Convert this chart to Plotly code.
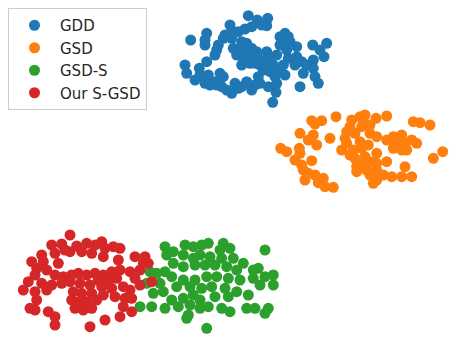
import plotly.graph_objects as go

# Point positions (x right, y down, pixel units)
gdd_x = [248.3,257.3,267.7,266.7,261.7,251.7,245,238.3,230,231.7,225,223.3,231.7,206.7,205,205,190.7,218.3,216.7,215,
         241.7,246.7,240,245,251.7,256.7,250,243.3,241.7,250,258.3,260,266.7,268.3,265,276.7,280,285,288.3,283.3,
         290,280,296.7,286.7,288.3,296.7,295,301.7,306.7,313.3,313.3,312.7,320,326.7,324,303.3,315,318.3,300,285,
         278.3,273.3,270,275,276.7,276,272.7,268.3,260,255,251.7,258.3,241.7,238.3,231.7,226.7,221.7,223.3,220,215,
         210,205,203.3,208.3,200,195,199.3,206.7,185,186.7,216.7,235,246.7,236.7,233.3,255,263.3,283.3]
gdd_y = [15.7,20,18.3,25.7,25,26.7,29,31.7,25,31,35,38.3,38.3,33.3,40,45,40,45,50,55,
         41.7,43.3,48.3,50,48.3,51.7,55,58.3,65,63.3,58.3,65,51.7,58.3,63.3,55,36.7,33.3,36.7,40,
         41.7,45,46.7,50,58.3,56.7,65,61.7,65,60,68.3,45,50,43.3,56.7,73.3,76.7,83.3,86.7,75,
         71.7,65,71.7,76.7,83.3,92.3,102.3,86.7,83.3,85,90,76.7,86.7,88.3,93.3,90,86.7,76.7,73.3,81.7,
         85,83.3,78.3,75,75,80,68.3,61.7,65,73.3,85,83.3,81.7,55,48.3,63.3,70,65]

gsd_x = [336,311.7,321.7,315,300,313.3,308.3,316.7,330,280.7,286.7,299.3,300,295,311.7,301.7,303.3,308.3,315,323.3,
         305,318.3,325,333.3,360,365,376,386.7,370,361.7,350,346.7,355,345,370,376.7,360,368.3,341.7,353.3,
         361.7,376.7,350,355,365,370,356.7,361.7,376.7,386.7,366.7,376.7,356.7,370,383.3,391.7,405,401.7,411.7,376.7,
         373.3,386.7,393.3,401.7,396.7,405,411.7,416.7,393.3,401.7,406.7,413.3,420,430,442.7,433.3,346.7,351.7,363.3]
gsd_y = [116.7,120.7,120.7,124,133.3,135,140,145,138.3,148.3,151.7,148.3,153.3,160,160.7,165,170,173.3,175,178.3,
         180,182.7,186.7,187.3,116.7,115,118.3,116,125,126.7,126.7,131.7,133.3,138.3,133.3,136.7,141.7,145,150,150,
         148.3,153.3,155,158.3,156.7,161.7,166.7,165,163.3,161.7,170,170,171.7,175,175,176.7,166.7,176.7,176.7,180,
         183.3,140,136.7,135,143.3,143.3,140,143.3,148.3,150,150,121.7,122.7,125,151.7,158.3,143.3,120,121.7]

gsds_x = [165,166.7,173.3,185,193.3,201.7,208.3,223.3,220,230,183.3,193.3,200,210,221.7,233.3,243.3,265,173.3,183.3,
          195,205,215,226.7,236.7,253.3,258.3,150,156.7,165,171.7,183.3,195,206.7,216.7,228.3,240,253.3,265,273.3,
          260,273.3,146.7,160,176.7,190,201.7,211.7,225,236.7,248.3,153.3,163.3,171.7,183.3,193.3,200,215,228.3,178.3,
          190,200,208.3,221.7,230,140,151.7,165,186.7,188.3,206.7,246.7,255,265,268.3]
gsds_y = [246.7,255,251.7,245,246.7,245,243.3,243.3,250,248.3,255,258.3,255,256.7,258.3,258.3,263.3,250,263.3,266.7,
          265,265,265,266.7,270,270,268.3,271.7,273.3,271.7,276.7,280,280,276.7,276.7,278.3,280,278.3,276.7,275,
          285,285,283.3,283.3,286.7,286.7,288.3,286.7,288.3,291.7,295,293.3,291.7,300,298.3,295,300,296.7,296.7,306.7,
          305,308.3,306.7,308.3,311.7,306.7,306.7,308.3,318.3,315,328.3,308.3,308.3,313.3,308.3]

sgsd_x = [70,51.7,61.7,65,76.7,86.7,95,101.7,105,113.3,120,41.7,55,70,81.7,91.7,103.3,31.7,43.3,58.3,
          118.3,135,143.3,36.7,46.7,35,55,63.3,71.7,78.3,86.7,95,103.3,111.7,120,130,135,116.7,108.3,98.3,
          28.3,41.7,51.7,61.7,70,80,90,101.7,111.7,123.3,130,23.3,35,46.7,73.3,81.7,91.7,103.3,115,125,
          131.7,71.7,78.3,86.7,96.7,75,83.3,91.7,36.7,30,35,48.3,55,55,123.3,131.7,120,105,90,145,
          148.3,151.7,140,140]
sgsd_y = [235,245,244,250,246,243.3,245,241.7,248.3,246.7,248.3,255,253.3,251.7,251.7,253.3,256.7,261.7,261.7,263.3,
          260,256.7,263.3,268.3,270,275,275,276.7,275,273.3,275,273.3,275,271.7,270,271.7,278.3,278.3,280,280,
          281.7,283.3,285,283.3,281.7,283.3,285,286.7,288.3,286.7,290,290,291.7,290,291.7,293.3,293.3,295,296.7,298.3,
          298.3,300,301.7,301.7,300,308.3,310,308.3,300,308.3,310,311.7,316.7,325,306.7,311.7,316.7,320,326.7,256.7,
          263.3,281.7,270,285]

names = ["GDD", "GSD", "GSD-S", "Our S-GSD"]
colors = ["#1f77b4", "#ff7f0e", "#2ca02c", "#d62728"]
series = [(gdd_x, gdd_y), (gsd_x, gsd_y), (gsds_x, gsds_y), (sgsd_x, sgsd_y)]

fig = go.Figure()
for (xs, ys), n, c in zip(series, names, colors):
    fig.add_trace(go.Scatter(x=xs, y=ys, mode="markers", name=n,
                             marker=dict(color=c, size=11, line=dict(width=0))))

# page body has an 8px margin: plot area covers page pixels 8..464 x 8..344
fig.update_layout(
    width=456, height=336,
    margin=dict(l=0, r=0, t=0, b=0),
    plot_bgcolor="white", paper_bgcolor="white",
    xaxis=dict(range=[8, 464], visible=False),
    yaxis=dict(range=[344, 8], visible=False),
    showlegend=True,
    legend=dict(x=0, y=1, xanchor="left", yanchor="top",
                bgcolor="rgba(255,255,255,0.8)", bordercolor="#cccccc", borderwidth=1,
                font=dict(family="DejaVu Sans", size=15, color="#262626"),
                itemwidth=41, tracegroupgap=0),
)

fig.write_html("out.html")
